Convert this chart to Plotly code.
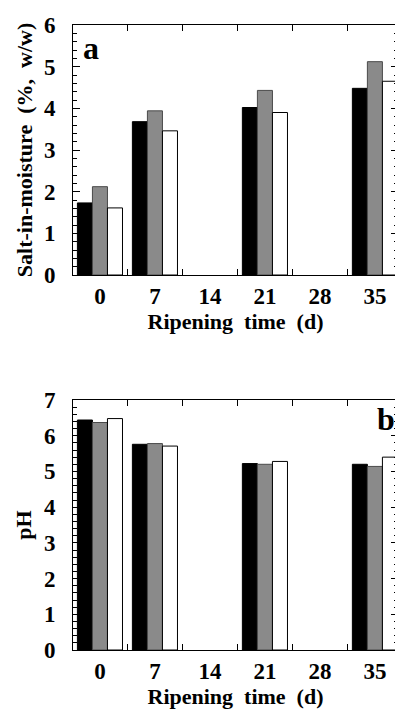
import plotly.graph_objects as go

days = ["0", "7", "14", "21", "28", "35"]
salt_black = [1.73, 3.68, None, 4.02, None, 4.48]
salt_gray = [2.12, 3.94, None, 4.43, None, 5.12]
salt_white = [1.61, 3.46, None, 3.90, None, 4.65]
ph_black = [6.44, 5.76, None, 5.22, None, 5.20]
ph_gray = [6.37, 5.78, None, 5.20, None, 5.14]
ph_white = [6.48, 5.71, None, 5.28, None, 5.40]
salt_ticks = [0, 1, 2, 3, 4, 5, 6]
ph_ticks = [0, 1, 2, 3, 4, 5, 6, 7]

OFF = 8  # default page body margin
W, H = 403 - OFF, 710 - OFF
L, R, T, B = 73 - OFF, 5, 25 - OFF, 60
PW, PH = W - L - R, H - T - B
FONT = "Liberation Serif"

fig = go.Figure()
styles = [
    ("#000000", "#000000", 1),
    ("#8a8a8a", "#4a4a4a", 1),
    ("#ffffff", "#000000", 1),
]
for (xa, ya), series in [
    (("x", "y"), [salt_black, salt_gray, salt_white]),
    (("x2", "y2"), [ph_black, ph_gray, ph_white]),
]:
    for i, vals in enumerate(series):
        fc, lc, lw = styles[i]
        fig.add_trace(go.Bar(
            x=days, y=vals, xaxis=xa, yaxis=ya, offsetgroup=str(i),
            marker=dict(color=fc, line=dict(color=lc, width=lw)),
            showlegend=False,
        ))

def dom_y(top_px, bot_px):
    top_px -= OFF
    bot_px -= OFF
    return [1 - (bot_px - T) / PH, 1 - (top_px - T) / PH]

def px_x(v):
    return (v - OFF - L) / PW

def px_y(v):
    return 1 - (v - OFF - T) / PH

tickfont = dict(family=FONT, size=23, color="black", weight="bold")
titlefont = dict(family=FONT, size=22, color="black", weight="bold")

xcommon = dict(
    type="category", range=[-0.49, 5.42], tickson="boundaries",
    ticks="inside", ticklen=6, tickcolor="black", mirror="ticks",
    showline=True, linecolor="black", linewidth=1, showgrid=False,
    tickfont=tickfont, domain=[0, 1], automargin=False,
)
ycommon = dict(
    ticks="inside", ticklen=7, tickcolor="black", mirror="ticks",
    showline=True, linecolor="black", linewidth=1, showgrid=False,
    zeroline=False, tickfont=tickfont, ticklabelstandoff=12, automargin=False,
    minor=dict(dtick=0.2, ticks="inside", ticklen=4, tickcolor="black"),
)

fig.update_layout(
    width=W, height=H, margin=dict(l=L, r=R, t=T, b=B, autoexpand=False),
    paper_bgcolor="white", plot_bgcolor="white",
    barmode="group", bargap=0.18, bargroupgap=0,
    xaxis=dict(**xcommon, anchor="y",
               title=dict(text="Ripening  time  (d)", font=titlefont, standoff=5)),
    xaxis2=dict(**xcommon, anchor="y2",
                title=dict(text="Ripening  time  (d)", font=titlefont, standoff=5)),
    yaxis=dict(**ycommon, anchor="x", range=[0, 6], tickvals=salt_ticks,
               domain=dom_y(25, 275),
               title=dict(text="Salt-in-moisture  (%,  w/w)", font=titlefont, standoff=5)),
    yaxis2=dict(**ycommon, anchor="x2", range=[0, 7], tickvals=ph_ticks,
                domain=dom_y(400, 650),
                title=dict(text="pH", font=titlefont, standoff=6)),
    annotations=[
        dict(text="a", xref="paper", yref="paper", x=px_x(81), y=px_y(48),
             xanchor="left", yanchor="middle", showarrow=False,
             font=dict(family=FONT, size=32, color="black", weight="bold")),
        dict(text="b", xref="paper", yref="paper", x=px_x(397), y=px_y(419),
             xanchor="right", yanchor="middle", showarrow=False,
             font=dict(family=FONT, size=32, color="black", weight="bold")),
    ],
)

fig.write_html("out.html")
